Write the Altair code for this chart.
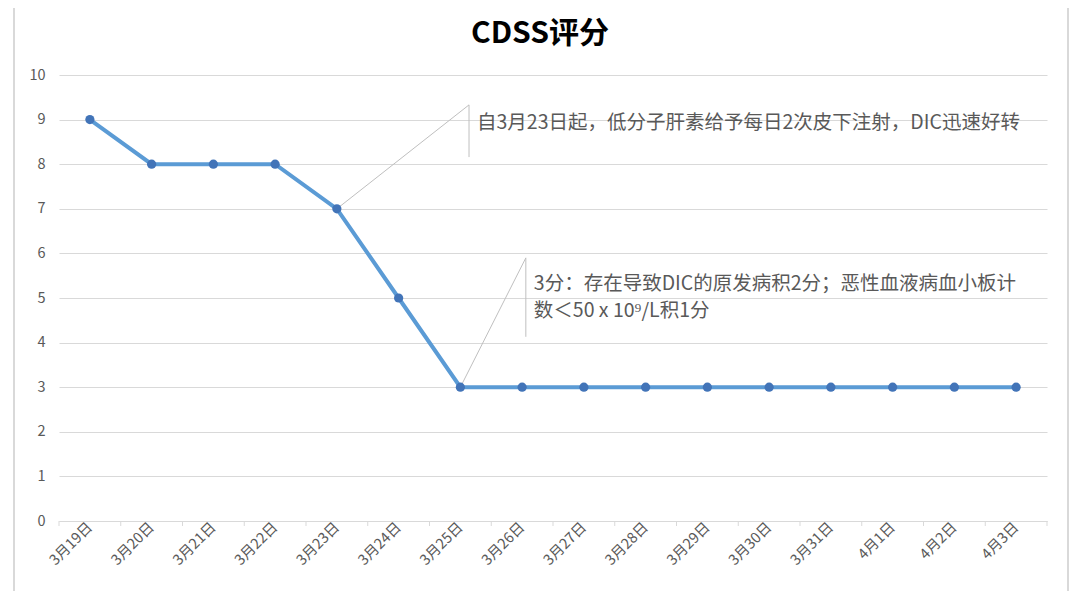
import altair as alt
import pandas as pd

dates = ["3月19日", "3月20日", "3月21日", "3月22日", "3月23日", "3月24日", "3月25日", "3月26日",
         "3月27日", "3月28日", "3月29日", "3月30日", "3月31日", "4月1日", "4月2日", "4月3日"]
scores = [9, 8, 8, 8, 7, 5, 3, 3, 3, 3, 3, 3, 3, 3, 3, 3]

note1 = "自3月23日起，低分子肝素给予每日2次皮下注射，DIC迅速好转"
note2 = ["3分：存在导致DIC的原发病积2分；恶性血液病血小板计", "数＜50 x 10⁹/L积1分"]

FONT = "Noto Sans CJK SC"
GREY = "#595959"
W, H = 988, 446

df = pd.DataFrame({"i": list(range(len(dates))), "date": dates, "score": scores})
label_js = "[" + ",".join("'%s'" % d for d in dates) + "][datum.value]"

x_scale = alt.Scale(domain=[-0.5, len(dates) - 0.5], nice=False, zero=False)
y_scale = alt.Scale(domain=[0, 10], nice=False)

base = alt.Chart(df)

line = base.mark_line(color="#5B9BD5", strokeWidth=4).encode(
    x=alt.X("i:Q", scale=x_scale, title=None,
            axis=alt.Axis(values=list(range(len(dates))), labelExpr=label_js, labelAngle=-45,
                          labelAlign="right", labelBaseline="middle", labelPadding=4,
                          ticks=False, grid=False, domainColor="#d9d9d9",
                          labelColor=GREY, labelFont=FONT, labelFontSize=14.5)),
    y=alt.Y("score:Q", scale=y_scale, title=None,
            axis=alt.Axis(values=list(range(11)), domain=False, ticks=False, gridColor="#d9d9d9",
                          labelColor=GREY, labelFont=FONT, labelFontSize=14.5, labelPadding=14)),
)
points = base.mark_circle(color="#4274B8", size=85, opacity=1).encode(
    x=alt.X("i:Q", scale=x_scale), y=alt.Y("score:Q", scale=y_scale)
)

# tick marks between categories, as in the spreadsheet
bounds = pd.DataFrame({"b": [k - 0.5 for k in range(len(dates) + 1)]})
ticks = alt.Chart(bounds).mark_rule(color="#d9d9d9").encode(
    x=alt.X("b:Q", scale=x_scale), y=alt.value(H), y2=alt.value(H + 5)
)

# callout leader lines
leaders = pd.DataFrame({
    "x": [4, 6.14, 6.14, 6.0, 7.06, 7.06],
    "y": [7, 9.33, 8.16, 3, 5.9, 4.13],
    "g": ["a", "a", "a", "b", "b", "b"],
    "o": [0, 1, 2, 0, 1, 2],
})
leader = alt.Chart(leaders).mark_line(color="#bfbfbf", strokeWidth=1).encode(
    x=alt.X("x:Q", scale=x_scale), y=alt.Y("y:Q", scale=y_scale), detail="g:N", order="o:Q"
)

texts = pd.DataFrame({
    "x": [6.27, 7.19, 7.19],
    "y": [8.93, 5.32, 4.71],
    "t": [note1] + note2,
})
notes = alt.Chart(texts).mark_text(align="left", baseline="middle", font=FONT, fontSize=19.5,
                                   color=GREY).encode(
    x=alt.X("x:Q", scale=x_scale), y=alt.Y("y:Q", scale=y_scale), text="t:N"
)

# outer chart frame (left and right edges)
border = alt.Chart(df).mark_rule(color="#d9d9d9", strokeWidth=2).encode(
    x=alt.value(-45), y=alt.value(-67), y2=alt.value(H + 90)
)
border2 = alt.Chart(df).mark_rule(color="#d9d9d9", strokeWidth=2).encode(
    x=alt.value(1009), y=alt.value(-67), y2=alt.value(H + 90)
)

chart = alt.layer(border, border2, ticks, leader, line, points, notes).properties(
    width=W, height=H,
    title=alt.TitleParams("CDSS评分", font=FONT, fontSize=30, fontWeight="bold", color="#000000",
                          anchor="middle", frame="group", offset=-42, dx=-13),
    autosize=alt.AutoSizeParams(type="none"),
    padding={"left": 51, "top": 67, "right": 25, "bottom": 70},
).configure_view(stroke=None)

chart.save("out.html", embed_options={"renderer": "svg", "actions": False})
